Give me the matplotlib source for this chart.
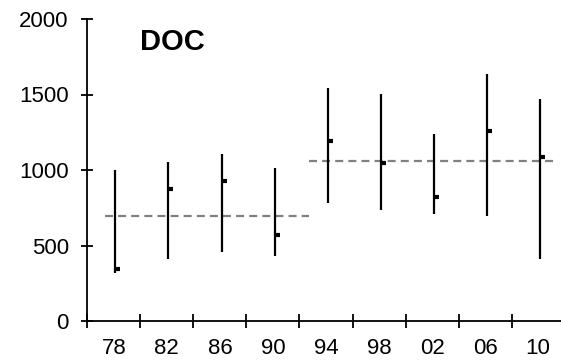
import matplotlib
matplotlib.use("Agg")
import matplotlib.pyplot as plt
from matplotlib import markers

plt.rcParams['font.family'] = ['Liberation Sans', 'DejaVu Sans']

years = [1978, 1982, 1986, 1990, 1994, 1998, 2002, 2006, 2010]
year_labels = ['78', '82', '86', '90', '94', '98', '02', '06', '10']
high = [998, 1051, 1104, 1011, 1541, 1501, 1236, 1634, 1472]
low = [316, 409, 459, 430, 779, 735, 711, 697, 409]
close = [345, 876, 927, 571, 1194, 1046, 823, 1260, 1088]

period1_mean = 695
period1_span = [1977.3, 1992.7]
period2_mean = 1058
period2_span = [1992.7, 2011.1]

yticks = [0, 500, 1000, 1500, 2000]
title = 'DOC'

W, H = 561, 361
fig = plt.figure(figsize=(W / 100, H / 100), dpi=100)
left_px, right_px, bottom_px, top_px = 87.3, 564.7, 321, 19
ax = fig.add_axes([left_px / W, (H - bottom_px) / H,
                   (right_px - left_px) / W, (bottom_px - top_px) / H])

ax.set_xlim(1976, 2012)
ax.set_ylim(0, 2000)

# mean dashed lines
dash = (0, (3.6, 2.3))
ax.plot(period1_span, [period1_mean] * 2, color='#808080', lw=1.6, linestyle=dash)
ax.plot(period2_span, [period2_mean] * 2, color='#808080', lw=1.6, linestyle=dash)

# high-low lines (drawn slightly right of the label centre, as in the source)
xs = [y + 0.12 for y in years]
ax.vlines(xs, low, high, colors='black', linewidth=1.6)
# close markers
ax.plot(xs, close, linestyle='none', marker=markers.TICKRIGHT,
        markersize=3.6, markeredgewidth=3.0, color='black')

for s in ['top', 'right']:
    ax.spines[s].set_visible(False)
for s in ['left', 'bottom']:
    ax.spines[s].set_linewidth(1.3)
    ax.spines[s].set_color('black')

ax.set_yticks(yticks)
ax.set_yticklabels([str(v) for v in yticks])
ax.tick_params(axis='y', direction='inout', length=8.6, width=1.3,
               labelsize=16, pad=9)

# major ticks at boundaries (no labels), minor "ticks" carry the labels
ax.set_xticks([1976 + 4 * i for i in range(9)])
ax.set_xticklabels([])
ax.set_xticks(years, minor=True)
ax.set_xticklabels(year_labels, minor=True)
ax.tick_params(axis='x', which='major', direction='inout', length=9.4, width=1.3)
ax.tick_params(axis='x', which='minor', length=0, labelsize=16, pad=12)

ax.text(1980.0, 1845, title, fontsize=21, fontweight='bold', ha='left', va='center')

fig.savefig('out.png', dpi=100)
